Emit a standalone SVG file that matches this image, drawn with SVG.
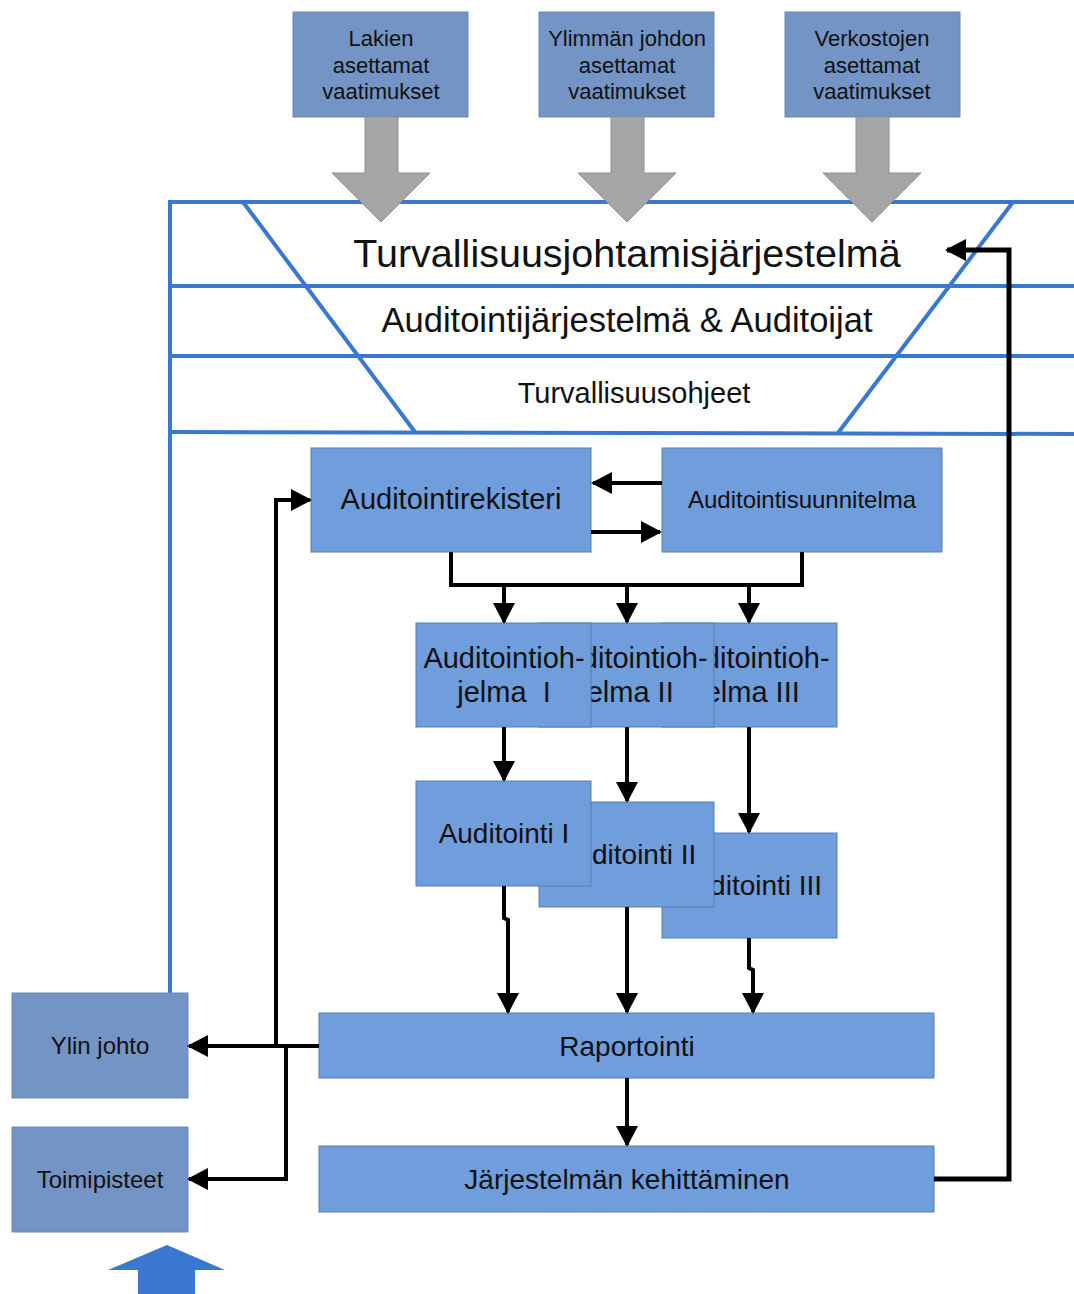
<svg xmlns="http://www.w3.org/2000/svg" width="1074" height="1294" viewBox="0 0 1074 1294">
<style>
.frame{stroke:#3a78d0;stroke-width:4;fill:none}
.top{fill:#7394c4;stroke:#6a8ab8;stroke-width:1}
.box{fill:#709ddb;stroke:#5a7cae;stroke-width:1}
.grey{fill:#a6a6a6;stroke:#8f8f8f;stroke-width:1}
.t{font-family:"Liberation Sans",Arial,sans-serif;fill:#111;text-anchor:middle}
.c{stroke:#000;stroke-width:4;fill:none;marker-end:url(#ah)}
.cn{stroke:#000;stroke-width:4;fill:none}
</style>
<defs>
<marker id="ah" markerUnits="userSpaceOnUse" markerWidth="22" markerHeight="24" refX="19" refY="12" orient="auto">
<path d="M0,1 L21,12 L0,23 z" fill="#000"/>
</marker>
</defs>
<rect width="1074" height="1294" fill="#fff"/>

<g id="frame">
<path class="frame" d="M170,993 L170,202 L1074,202"/>
<path class="frame" d="M170,286 L1074,286"/>
<path class="frame" d="M170,356 L1074,356"/>
<path class="frame" d="M170,432 L1074,434"/>
<path class="frame" d="M243,202 L415,432"/>
<path class="frame" d="M1013,202 L838,433"/>
<text class="t" x="627" y="267" font-size="39.5">Turvallisuusjohtamisjärjestelmä</text>
<text class="t" x="627" y="332" font-size="34.5">Auditointijärjestelmä &amp; Auditoijat</text>
<text class="t" x="634" y="403" font-size="29">Turvallisuusohjeet</text>
</g>

<g id="lakien">
<rect class="top" x="293" y="12" width="175" height="105"/>
<text class="t" x="381" y="46" font-size="22">Lakien</text>
<text class="t" x="381" y="73" font-size="22">asettamat</text>
<text class="t" x="381" y="99" font-size="22">vaatimukset</text>
<path class="grey" d="M365,117 L398,117 L398,173 L430,173 L381,222 L332,173 L365,173 z"/>
</g>
<g id="ylimman">
<rect class="top" x="539" y="12" width="175" height="105"/>
<text class="t" x="627" y="46" font-size="22">Ylimmän johdon</text>
<text class="t" x="627" y="73" font-size="22">asettamat</text>
<text class="t" x="627" y="99" font-size="22">vaatimukset</text>
<path class="grey" d="M611,117 L644,117 L644,173 L676,173 L627,222 L578,173 L611,173 z"/>
</g>
<g id="verkostojen">
<rect class="top" x="785" y="12" width="175" height="105"/>
<text class="t" x="872" y="46" font-size="22">Verkostojen</text>
<text class="t" x="872" y="73" font-size="22">asettamat</text>
<text class="t" x="872" y="99" font-size="22">vaatimukset</text>
<path class="grey" d="M856,117 L889,117 L889,173 L921,173 L872,222 L823,173 L856,173 z"/>
</g>

<g id="auditointirekisteri">
<rect class="box" x="311" y="448" width="280" height="104"/>
<text class="t" x="451" y="509" font-size="29">Auditointirekisteri</text>
</g>
<g id="auditointisuunnitelma">
<rect class="box" x="662" y="448" width="280" height="104"/>
<text class="t" x="802" y="508" font-size="24">Auditointisuunnitelma</text>
</g>

<g id="ohjelma3">
<rect class="box" x="662" y="623" width="175" height="104"/>
<text class="t" x="749" y="668" font-size="29">Auditointioh-</text>
<text class="t" x="749" y="702" font-size="29">jelma III</text>
</g>
<g id="ohjelma2">
<rect class="box" x="539" y="623" width="175" height="104"/>
<text class="t" x="627" y="668" font-size="29">Auditointioh-</text>
<text class="t" x="627" y="702" font-size="29">jelma II</text>
</g>
<g id="ohjelma1">
<rect class="box" x="416" y="623" width="175" height="104"/>
<text class="t" x="504" y="668" font-size="29">Auditointioh-</text>
<text class="t" x="504" y="702" font-size="29" xml:space="preserve">jelma  I</text>
</g>

<g id="auditointi3">
<rect class="box" x="662" y="833" width="175" height="105"/>
<text class="t" x="749" y="895" font-size="28">Auditointi III</text>
</g>
<g id="auditointi2">
<rect class="box" x="539" y="802" width="175" height="105"/>
<text class="t" x="627" y="864" font-size="28">Auditointi II</text>
</g>
<g id="auditointi1">
<rect class="box" x="416" y="781" width="175" height="105"/>
<text class="t" x="504" y="843" font-size="28">Auditointi I</text>
</g>

<g id="raportointi">
<rect class="box" x="319" y="1013" width="615" height="65"/>
<text class="t" x="627" y="1056" font-size="28">Raportointi</text>
</g>
<g id="kehittaminen">
<rect class="box" x="319" y="1146" width="615" height="66"/>
<text class="t" x="627" y="1189" font-size="28">Järjestelmän kehittäminen</text>
</g>

<g id="ylinjohto">
<rect class="top" x="12" y="993" width="176" height="105"/>
<text class="t" x="100" y="1054" font-size="24">Ylin johto</text>
</g>
<g id="toimipisteet">
<rect class="top" x="12" y="1127" width="176" height="105"/>
<text class="t" x="100" y="1188" font-size="24">Toimipisteet</text>
</g>

<g id="uparrow">
<path d="M138,1294 L138,1270 L108,1270 L167,1245 L225,1270 L195,1270 L195,1294 z" fill="#3a78d0"/>
</g>

<g id="connectors">
<path class="c" d="M662,483 L593,483"/>
<path class="c" d="M591,532 L660,532"/>
<path class="cn" d="M451,552 L451,585 L802,585 L802,552"/>
<path class="c" d="M504,585 L504,622"/>
<path class="c" d="M627,585 L627,622"/>
<path class="c" d="M749,585 L749,622"/>
<path class="c" d="M504,727 L504,780"/>
<path class="c" d="M627,727 L627,801"/>
<path class="c" d="M749,727 L749,832"/>
<path class="c" d="M504,886 L504,918 L508,920 L508,1012"/>
<path class="c" d="M627,907 L627,1012"/>
<path class="c" d="M749,938 L749,968 L753,970 L753,1012"/>
<path class="c" d="M627,1078 L627,1145"/>
<path class="c" style="stroke-width:5" d="M934,1179 L1009,1179 L1009,250 L947,250"/>
<path class="c" d="M319,1046 L189,1046"/>
<path class="c" d="M276,1046 L276,500 L310,500"/>
<path class="c" d="M286,1046 L286,1179 L189,1179"/>
</g>
</svg>
